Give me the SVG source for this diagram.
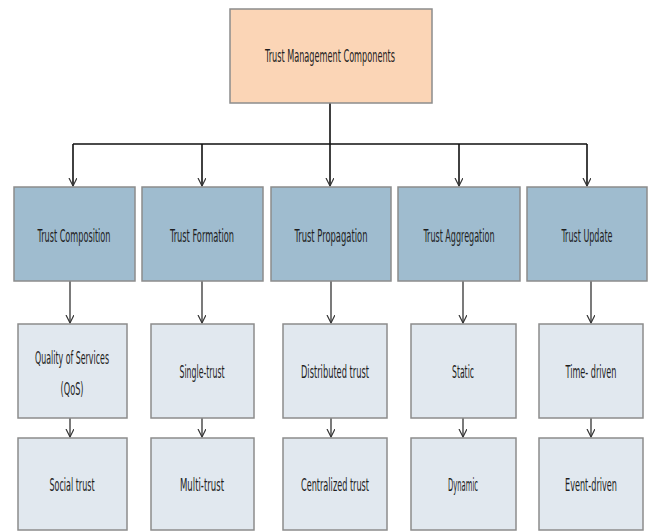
<svg xmlns="http://www.w3.org/2000/svg" width="648" height="531" viewBox="0 0 648 531">
<defs>
<marker id="arr" markerUnits="userSpaceOnUse" markerWidth="10" markerHeight="10" refX="8" refY="4" orient="auto">
<path d="M0,0 L8,4 L0,8" fill="none" stroke="#333" stroke-width="1.2"/>
</marker>
<style>
.root{fill:#FBD5B6;stroke:#8C8C8C;stroke-width:1.5}
.l2{fill:#9FBCCF;stroke:#8C8C8C;stroke-width:1.5}
.l3{fill:#E1E8EF;stroke:#8C8C8C;stroke-width:1.5}
text{font-family:"Liberation Sans Narrow","DejaVu Sans Condensed","Liberation Sans",sans-serif;font-size:18px;fill:#1e1e1e;text-anchor:middle}
.c{fill:none;stroke:#333;stroke-width:1.3}
.k{fill:none;stroke:#111;stroke-width:1.6}
</style>
</defs>
<rect width="648" height="531" fill="#fff"/>
<g id="connectors">
<path class="k" d="M330,103 V144 M73,144 H587"/>
<path class="k" d="M73,144 V186" marker-end="url(#arr)"/>
<path class="k" d="M202,144 V186" marker-end="url(#arr)"/>
<path class="k" d="M330,144 V186" marker-end="url(#arr)"/>
<path class="k" d="M459,144 V186" marker-end="url(#arr)"/>
<path class="k" d="M587,144 V186" marker-end="url(#arr)"/>
<path class="c" d="M70,281 V323" marker-end="url(#arr)"/>
<path class="c" d="M202,281 V323" marker-end="url(#arr)"/>
<path class="c" d="M331,281 V323" marker-end="url(#arr)"/>
<path class="c" d="M463,281 V323" marker-end="url(#arr)"/>
<path class="c" d="M591,281 V323" marker-end="url(#arr)"/>
<path class="c" d="M70,418 V437" marker-end="url(#arr)"/>
<path class="c" d="M202,418 V437" marker-end="url(#arr)"/>
<path class="c" d="M331,418 V437" marker-end="url(#arr)"/>
<path class="c" d="M463,418 V437" marker-end="url(#arr)"/>
<path class="c" d="M591,418 V437" marker-end="url(#arr)"/>
</g>
<g id="root"><rect class="root" x="230" y="9" width="202" height="94"/><text transform="matrix(0.5,0,0,1,330,62)" textLength="260" lengthAdjust="spacingAndGlyphs">Trust Management Components</text></g>
<g id="trust-composition"><rect class="l2" x="14" y="187" width="121" height="94"/><text transform="matrix(0.5,0,0,1,74,242)" textLength="146" lengthAdjust="spacingAndGlyphs">Trust Composition</text></g>
<g id="trust-formation"><rect class="l2" x="142" y="187" width="121" height="94"/><text transform="matrix(0.5,0,0,1,202,242)" textLength="128" lengthAdjust="spacingAndGlyphs">Trust Formation</text></g>
<g id="trust-propagation"><rect class="l2" x="271" y="187" width="120" height="94"/><text transform="matrix(0.5,0,0,1,331,242)" textLength="146" lengthAdjust="spacingAndGlyphs">Trust Propagation</text></g>
<g id="trust-aggregation"><rect class="l2" x="398" y="187" width="122" height="94"/><text transform="matrix(0.5,0,0,1,459,242)" textLength="142" lengthAdjust="spacingAndGlyphs">Trust Aggregation</text></g>
<g id="trust-update"><rect class="l2" x="527" y="187" width="120" height="94"/><text transform="matrix(0.5,0,0,1,587,242)" textLength="102" lengthAdjust="spacingAndGlyphs">Trust Update</text></g>
<g id="qos"><rect class="l3" x="18" y="324" width="109" height="94"/><text transform="matrix(0.5,0,0,1,72,364)" textLength="148" lengthAdjust="spacingAndGlyphs">Quality of Services</text><text transform="matrix(0.5,0,0,1,72,395)" textLength="46" lengthAdjust="spacingAndGlyphs">(QoS)</text></g>
<g id="single-trust"><rect class="l3" x="151" y="324" width="103" height="94"/><text transform="matrix(0.5,0,0,1,202,378)" textLength="90" lengthAdjust="spacingAndGlyphs">Single-trust</text></g>
<g id="distributed-trust"><rect class="l3" x="283" y="324" width="104" height="94"/><text transform="matrix(0.5,0,0,1,335,378)" textLength="136" lengthAdjust="spacingAndGlyphs">Distributed trust</text></g>
<g id="static"><rect class="l3" x="411" y="324" width="105" height="94"/><text transform="matrix(0.5,0,0,1,463,378)" textLength="44" lengthAdjust="spacingAndGlyphs">Static</text></g>
<g id="time-driven"><rect class="l3" x="539" y="324" width="104" height="94"/><text transform="matrix(0.5,0,0,1,591,378)" textLength="102" lengthAdjust="spacingAndGlyphs">Time- driven</text></g>
<g id="social-trust"><rect class="l3" x="18" y="438" width="109" height="92"/><text transform="matrix(0.5,0,0,1,72,491)" textLength="90" lengthAdjust="spacingAndGlyphs">Social trust</text></g>
<g id="multi-trust"><rect class="l3" x="151" y="438" width="103" height="92"/><text transform="matrix(0.5,0,0,1,202,491)" textLength="88" lengthAdjust="spacingAndGlyphs">Multi-trust</text></g>
<g id="centralized-trust"><rect class="l3" x="283" y="438" width="104" height="92"/><text transform="matrix(0.5,0,0,1,335,491)" textLength="136" lengthAdjust="spacingAndGlyphs">Centralized trust</text></g>
<g id="dynamic"><rect class="l3" x="411" y="438" width="105" height="92"/><text transform="matrix(0.5,0,0,1,463,491)" textLength="60" lengthAdjust="spacingAndGlyphs">Dynamic</text></g>
<g id="event-driven"><rect class="l3" x="539" y="438" width="104" height="92"/><text transform="matrix(0.5,0,0,1,591,491)" textLength="104" lengthAdjust="spacingAndGlyphs">Event-driven</text></g>
</svg>
